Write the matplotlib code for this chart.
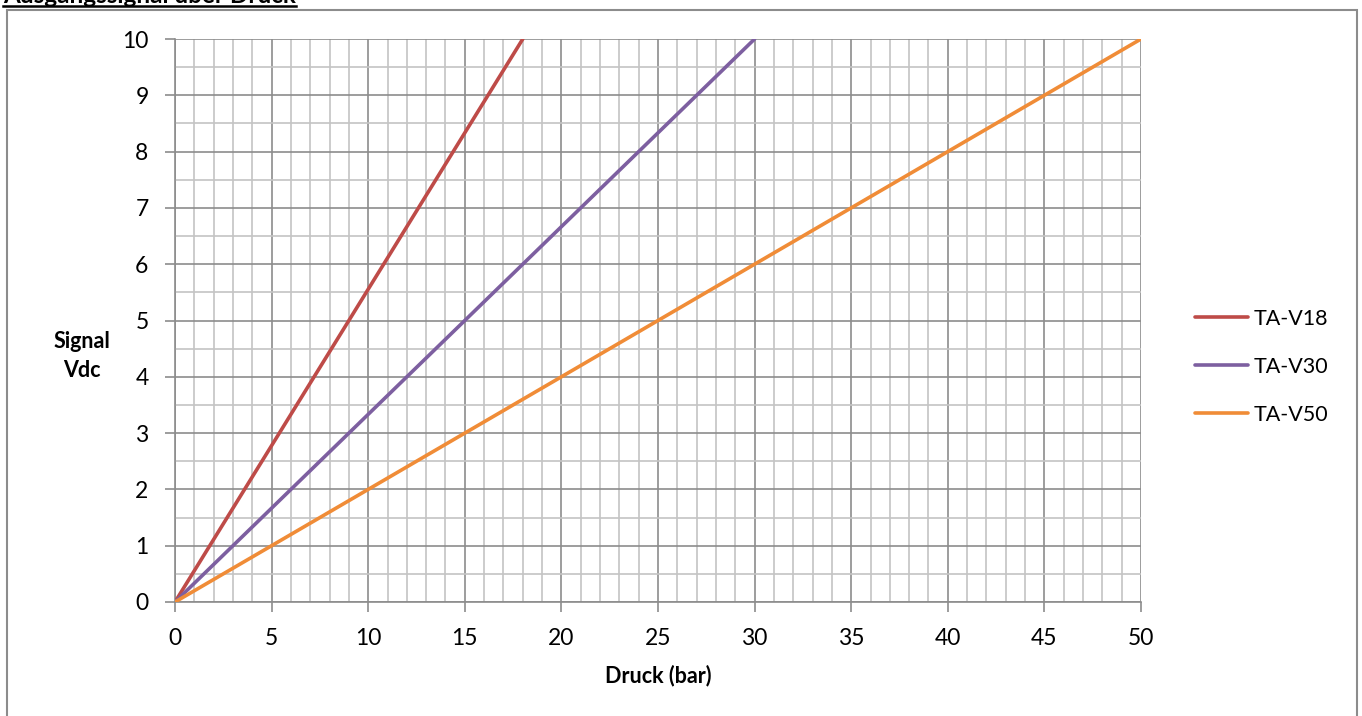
import matplotlib
matplotlib.use('Agg')
import matplotlib.pyplot as plt
from matplotlib.patches import Rectangle
from matplotlib.lines import Line2D
import numpy as np

# data: pressure range (bar) -> signal 0..10 Vdc
series_names = ['TA-V18', 'TA-V30', 'TA-V50']
series_druck = [[0, 18], [0, 30], [0, 50]]
series_signal = [[0, 10], [0, 10], [0, 10]]
series_colors = ['#BE4B48', '#7D5FA0', '#F08C37']

x_ticks = [0, 5, 10, 15, 20, 25, 30, 35, 40, 45, 50]
y_ticks = [0, 1, 2, 3, 4, 5, 6, 7, 8, 9, 10]

plt.rcParams['font.family'] = ['Lato', 'DejaVu Sans']

W, H = 1362, 716
fig = plt.figure(figsize=(W / 100, H / 100), dpi=100)
ax = fig.add_axes([175 / W, 1 - 602 / H, (1141 - 175) / W, (602 - 39) / H])

for name, xs, ys, c in zip(series_names, series_druck, series_signal, series_colors):
    ax.plot(xs, ys, color=c, lw=2.6, label=name, solid_capstyle='round', zorder=3)

ax.set_xlim(0, 50)
ax.set_ylim(0, 10)
ax.set_xticks(x_ticks)
ax.set_yticks(y_ticks)
ax.set_xticks(np.arange(0, 51, 1), minor=True)
ax.set_yticks(np.arange(0, 10.01, 0.5), minor=True)
ax.grid(which='major', color='#8c8c8c', lw=1.2)
ax.grid(which='minor', color='#c4c4c4', lw=1.2)
ax.set_axisbelow(True)
for s in ['top', 'right']:
    ax.spines[s].set_visible(False)
for s in ['left', 'bottom']:
    ax.spines[s].set_color('#8c8c8c')
    ax.spines[s].set_linewidth(1.2)
ax.tick_params(which='major', length=7, width=1.2, color='#8c8c8c', labelsize=16.5)
ax.tick_params(axis='y', pad=12)
ax.tick_params(axis='x', pad=12)
ax.tick_params(which='minor', length=0)

ax.set_xlabel('Druck (bar)', fontsize=15.5, fontweight='bold', labelpad=11)
fig.text(82 / W, 1 - 356 / H, 'Signal\nVdc', fontsize=15.5, fontweight='bold',
         ha='center', va='center', linespacing=1.5)

leg = fig.legend(loc='upper left', bbox_to_anchor=(1195 / W, 1 - 309 / H), frameon=False,
                 borderpad=0, borderaxespad=0, fontsize=15.5, handlelength=2.45,
                 handletextpad=0.25, labelspacing=1.3)

# outer chart frame (bottom runs off the image)
fig.patches.append(Rectangle((7 / W, -0.05), (1357 - 7) / W, 1 - 10 / H + 0.05,
                             transform=fig.transFigure, fill=False,
                             edgecolor='#8c8c8c', lw=1.5))

# heading, mostly cut off at the top
t = fig.text(0.002, 1 - 3 / H, 'Ausgangssignal über Druck', fontsize=17.5,
             fontweight='bold', ha='left', va='baseline')
fig.canvas.draw()
bb = t.get_window_extent()
fig.lines.append(Line2D([bb.x0 / W, bb.x1 / W], [1 - 5.5 / H, 1 - 5.5 / H],
                        transform=fig.transFigure, color='black', lw=1.8))

fig.savefig('out.png', dpi=100)
